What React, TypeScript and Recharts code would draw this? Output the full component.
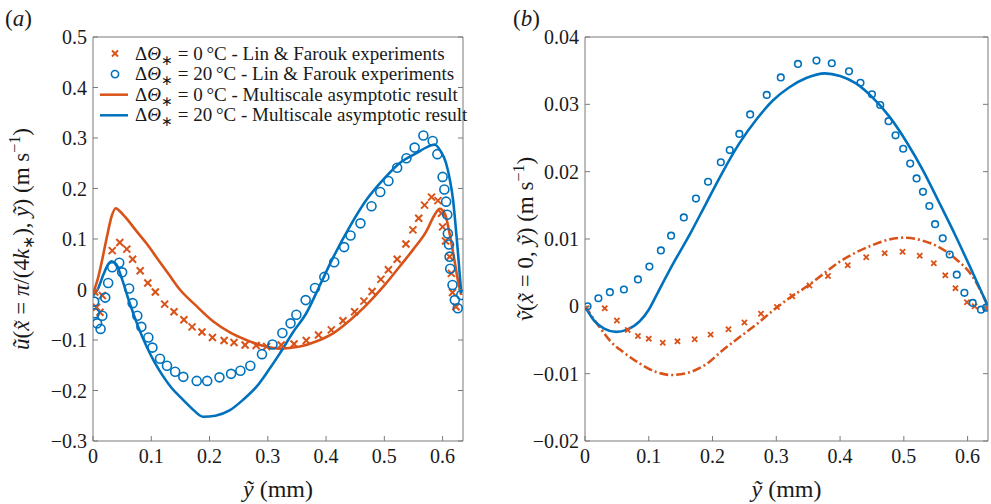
import React from 'react';
import { ComposedChart, Line, Scatter, XAxis, YAxis, Legend } from 'recharts';

const ORANGE = '#D95319';
const BLUE = '#0072BD';
const AXIS = '#7a7a7a';
const INK = '#1a1a1a';
const FONT = 'Liberation Serif';

const A_XMAX = 0.635;
const B_XMAX = 0.632;

const xTicks = [0, 0.1, 0.2, 0.3, 0.4, 0.5, 0.6];
const aYTicks = [-0.3, -0.2, -0.1, 0, 0.1, 0.2, 0.3, 0.4, 0.5];
const bYTicks = [-0.02, -0.01, 0, 0.01, 0.02, 0.03, 0.04];

// (a) Lin & Farouk, dTheta = 0 C
const aExp0X = [0.003, 0.006, 0.012, 0.016, 0.033, 0.046, 0.058, 0.068, 0.081, 0.094, 0.107, 0.123, 0.139, 0.156, 0.170, 0.187, 0.205, 0.225, 0.242, 0.261, 0.280, 0.298, 0.323, 0.345, 0.366, 0.387, 0.409, 0.429, 0.449, 0.465, 0.479, 0.494, 0.507, 0.522, 0.537, 0.549, 0.559, 0.569, 0.581, 0.592, 0.598, 0.600, 0.605, 0.612, 0.615, 0.617, 0.623];
const aExp0Y = [-0.005, -0.035, -0.045, -0.012, 0.077, 0.093, 0.080, 0.060, 0.037, 0.013, -0.005, -0.029, -0.044, -0.060, -0.074, -0.084, -0.095, -0.101, -0.105, -0.110, -0.111, -0.113, -0.110, -0.108, -0.101, -0.090, -0.080, -0.062, -0.044, -0.023, -0.004, 0.020, 0.039, 0.060, 0.090, 0.118, 0.141, 0.167, 0.183, 0.176, 0.151, 0.124, 0.096, 0.065, 0.032, -0.006, -0.034];

// (a) Lin & Farouk, dTheta = 20 C
const aExp20X = [0.002, 0.003, 0.007, 0.013, 0.016, 0.021, 0.026, 0.033, 0.045, 0.050, 0.062, 0.068, 0.076, 0.083, 0.095, 0.102, 0.115, 0.127, 0.141, 0.155, 0.178, 0.196, 0.217, 0.237, 0.253, 0.270, 0.290, 0.308, 0.325, 0.339, 0.349, 0.365, 0.381, 0.397, 0.414, 0.431, 0.442, 0.459, 0.478, 0.493, 0.507, 0.522, 0.538, 0.552, 0.567, 0.583, 0.591, 0.600, 0.603, 0.606, 0.608, 0.609, 0.611, 0.612, 0.613, 0.617, 0.621, 0.626, 0.632];
const aExp20Y = [-0.024, -0.047, -0.067, -0.078, -0.052, -0.016, 0.013, 0.044, 0.053, 0.034, 0.002, -0.027, -0.052, -0.074, -0.095, -0.115, -0.137, -0.151, -0.163, -0.173, -0.181, -0.181, -0.174, -0.167, -0.161, -0.151, -0.128, -0.109, -0.086, -0.067, -0.050, -0.021, 0.003, 0.025, 0.054, 0.084, 0.107, 0.131, 0.165, 0.193, 0.215, 0.241, 0.260, 0.281, 0.305, 0.294, 0.268, 0.223, 0.198, 0.174, 0.148, 0.111, 0.089, 0.065, 0.041, 0.009, -0.021, -0.037, -0.011];

// (a) multiscale asymptotic result
const aFit0X = [0, 0.008, 0.016, 0.024, 0.032, 0.039, 0.046, 0.058, 0.075, 0.092, 0.11, 0.13, 0.149, 0.175, 0.206, 0.235, 0.263, 0.29, 0.321, 0.355, 0.385, 0.412, 0.44, 0.469, 0.5, 0.526, 0.55, 0.572, 0.585, 0.595, 0.604, 0.612, 0.62, 0.626, 0.632];
const aFit0Y = [-0.007, 0.02, 0.06, 0.105, 0.145, 0.161, 0.155, 0.14, 0.115, 0.091, 0.062, 0.03, 0.0, -0.03, -0.063, -0.085, -0.1, -0.111, -0.117, -0.113, -0.102, -0.087, -0.062, -0.031, 0.008, 0.045, 0.08, 0.115, 0.145, 0.16, 0.15, 0.111, 0.06, 0.02, -0.011];
const aFit20X = [0, 0.008, 0.018, 0.026, 0.032, 0.04, 0.05, 0.063, 0.077, 0.092, 0.106, 0.121, 0.135, 0.149, 0.17, 0.189, 0.21, 0.235, 0.258, 0.281, 0.3, 0.321, 0.343, 0.366, 0.39, 0.412, 0.44, 0.469, 0.5, 0.526, 0.555, 0.575, 0.586, 0.596, 0.606, 0.612, 0.618, 0.622, 0.626, 0.629, 0.632];
const aFit20Y = [-0.012, 0.0, 0.03, 0.05, 0.056, 0.05, 0.02, -0.027, -0.072, -0.113, -0.145, -0.173, -0.195, -0.212, -0.236, -0.252, -0.25, -0.239, -0.218, -0.192, -0.162, -0.126, -0.085, -0.047, 0.01, 0.063, 0.123, 0.177, 0.22, 0.25, 0.27, 0.283, 0.287, 0.275, 0.25, 0.22, 0.177, 0.13, 0.078, 0.035, -0.007];

// (b) Lin & Farouk experiments
const bExp0X = [0.002, 0.031, 0.050, 0.067, 0.083, 0.100, 0.122, 0.145, 0.172, 0.197, 0.225, 0.250, 0.276, 0.301, 0.325, 0.352, 0.381, 0.412, 0.441, 0.470, 0.498, 0.525, 0.547, 0.565, 0.581, 0.599, 0.611, 0.630];
const bExp0Y = [-0.0003, -0.0003, -0.0021, -0.0035, -0.0044, -0.0048, -0.0054, -0.0052, -0.0049, -0.0042, -0.0034, -0.0024, -0.0011, -0.0001, 0.0015, 0.0031, 0.0045, 0.0061, 0.0073, 0.0079, 0.0081, 0.0075, 0.0064, 0.0046, 0.0027, 0.0006, 0.0, -0.0003];
const bExp20X = [0.004, 0.021, 0.039, 0.061, 0.083, 0.101, 0.119, 0.135, 0.155, 0.174, 0.193, 0.213, 0.227, 0.242, 0.259, 0.285, 0.307, 0.334, 0.363, 0.387, 0.414, 0.432, 0.450, 0.463, 0.476, 0.487, 0.499, 0.510, 0.520, 0.530, 0.540, 0.549, 0.561, 0.572, 0.583, 0.595, 0.608, 0.621, 0.629];
const bExp20Y = [0.0, 0.0012, 0.0021, 0.0025, 0.004, 0.0059, 0.0083, 0.0105, 0.0132, 0.016, 0.0185, 0.0214, 0.0232, 0.0256, 0.0285, 0.0314, 0.034, 0.036, 0.0365, 0.0361, 0.0349, 0.0332, 0.0315, 0.0299, 0.0275, 0.0254, 0.0234, 0.0212, 0.019, 0.017, 0.0149, 0.0122, 0.0101, 0.0077, 0.0047, 0.002, 0.0005, -0.0005, -0.0002];

// (b) multiscale asymptotic result
const bFit0X = [0, 0.023, 0.04, 0.06, 0.086, 0.11, 0.135, 0.16, 0.19, 0.215, 0.242, 0.27, 0.295, 0.32, 0.347, 0.375, 0.399, 0.425, 0.451, 0.476, 0.501, 0.528, 0.555, 0.582, 0.608, 0.62, 0.632];
const bFit0Y = [0, -0.0031, -0.0052, -0.0068, -0.0085, -0.0097, -0.0102, -0.0099, -0.0086, -0.0066, -0.0046, -0.0026, -0.0006, 0.0012, 0.0029, 0.0049, 0.0066, 0.008, 0.0091, 0.0099, 0.0102, 0.0098, 0.0088, 0.007, 0.0044, 0.0024, 0];
const bFit20X = [0, 0.015, 0.03, 0.049, 0.065, 0.086, 0.1, 0.115, 0.138, 0.165, 0.19, 0.215, 0.242, 0.27, 0.295, 0.32, 0.347, 0.376, 0.4, 0.425, 0.45, 0.478, 0.505, 0.53, 0.555, 0.582, 0.607, 0.632];
const bFit20Y = [0, -0.0022, -0.0033, -0.0038, -0.0035, -0.0022, -0.0005, 0.0022, 0.0063, 0.0108, 0.0153, 0.0198, 0.0242, 0.0279, 0.0306, 0.0325, 0.0339, 0.0346, 0.0342, 0.0331, 0.0311, 0.0281, 0.0243, 0.0202, 0.0155, 0.0103, 0.0052, 0];

const zip = (xs: number[], ys: number[]) => xs.map((x, i) => ({ x, y: ys[i] }));

const fmt = (v: number, d: number) =>
  Math.abs(v) < 1e-9 ? '0' : (v < 0 ? '\u2212' : '') + Math.abs(v).toFixed(d);

const txt = { fontFamily: FONT, fill: INK };

const BottomTick = ({ x, y, payload }: any) => (
  <g>
    <line x1={x} y1={y} x2={x} y2={y - 5} stroke={AXIS} />
    <text x={x} y={y + 22} textAnchor="middle" fontSize={20} {...txt}>{fmt(payload.value, 1)}</text>
  </g>
);
const TopTick = ({ x, y }: any) => <line x1={x} y1={y} x2={x} y2={y + 5} stroke={AXIS} />;
const RightTick = ({ x, y }: any) => <line x1={x} y1={y} x2={x - 5} y2={y} stroke={AXIS} />;
const leftTick = (digits: number) => ({ x, y, payload }: any) => (
  <g>
    <line x1={x} y1={y} x2={x + 5} y2={y} stroke={AXIS} />
    <text x={x - 6} y={y + 7} textAnchor="end" fontSize={20} {...txt}>{fmt(payload.value, digits)}</text>
  </g>
);

const XTitle = ({ viewBox }: any) => (
  <text x={viewBox.x + viewBox.width / 2} y={viewBox.y + 56} textAnchor="middle" fontSize={24} {...txt}>
    <tspan fontStyle="italic">{'\u1EF9'}</tspan> (mm)
  </text>
);

const yTitle = (panel: 'a' | 'b', dx: number) => ({ viewBox }: any) => {
  const cx = viewBox.x + dx;
  const cy = viewBox.y + viewBox.height / 2;
  return (
    <text x={cx} y={cy} transform={`rotate(-90 ${cx} ${cy})`} textAnchor="middle" fontSize={23} {...txt}>
      {panel === 'a' ? (
        <>
          <tspan fontStyle="italic">{'\u0169'}</tspan>(<tspan fontStyle="italic">{'x\u0303'}</tspan> = <tspan fontStyle="italic">π</tspan>/(4<tspan fontStyle="italic">k</tspan>
          <tspan dy={5} fontSize={16}>∗</tspan><tspan dy={-5}>), </tspan><tspan fontStyle="italic">{'\u1EF9'}</tspan>) (m s
        </>
      ) : (
        <>
          <tspan fontStyle="italic">{'v\u0303'}</tspan>(<tspan fontStyle="italic">{'x\u0303'}</tspan> = 0,  <tspan fontStyle="italic">{'\u1EF9'}</tspan>) (m s
        </>
      )}
      <tspan dy={-9} fontSize={16}>−1</tspan>
      <tspan dy={9}>)</tspan>
    </text>
  );
};

const Cross = ({ cx, cy, s = 3.5, w = 2 }: any) => (
  <g stroke={ORANGE} strokeWidth={w}>
    <line x1={cx - s} y1={cy - s} x2={cx + s} y2={cy + s} />
    <line x1={cx - s} y1={cy + s} x2={cx + s} y2={cy - s} />
  </g>
);
const Ring = ({ cx, cy, r = 4.5, w = 1.6 }: any) => (
  <circle cx={cx} cy={cy} r={r} fill="none" stroke={BLUE} strokeWidth={w} />
);

const legendKinds = ['cross', 'ring', 'line0', 'line20'];
const legendTemps = ['0', '20', '0', '20'];
const legendTexts = [
  'Lin & Farouk experiments',
  'Lin & Farouk experiments',
  'Multiscale asymptotic result',
  'Multiscale asymptotic result',
];

const LegendBox = () => (
  <svg width={380} height={90} style={{ display: 'block' }}>
    {legendKinds.map((k, i) => {
      const cy = 11.5 + i * 20.6;
      return (
        <g key={i}>
          {k === 'cross' && <Cross cx={20} cy={cy} s={3} />}
          {k === 'ring' && <Ring cx={20} cy={cy} r={3.6} />}
          {k === 'line0' && <line x1={5} x2={33} y1={cy} y2={cy} stroke={ORANGE} strokeWidth={2.5} />}
          {k === 'line20' && <line x1={5} x2={33} y1={cy} y2={cy} stroke={BLUE} strokeWidth={2.5} />}
          <text x={40} y={cy + 6} fontSize={19} {...txt}>
            Δ<tspan fontStyle="italic">Θ</tspan>
            <tspan dy={5} fontSize={14}>∗</tspan>
            <tspan dy={-5}>{` = ${legendTemps[i]}\u2009°C - ${legendTexts[i]}`}</tspan>
          </text>
        </g>
      );
    })}
  </svg>
);

const axisLine = { stroke: AXIS, strokeWidth: 1 };

export default function App() {
  return (
    <div style={{ position: 'absolute', left: 0, top: 0, width: 991, height: 504, background: '#fff' }}>
      <svg width={991} height={40} style={{ position: 'absolute', left: 0, top: 0 }}>
        <text x={5} y={26} fontSize={23} {...txt}>(<tspan fontStyle="italic">a</tspan>)</text>
        <text x={513} y={26} fontSize={23} {...txt}>(<tspan fontStyle="italic">b</tspan>)</text>
      </svg>

      <div style={{ position: 'absolute', left: 0, top: 0 }}>
        <ComposedChart width={480} height={504} margin={{ top: 36, right: 16, bottom: 33, left: 33 }}>
          <XAxis dataKey="x" type="number" domain={[0, A_XMAX]} ticks={xTicks} interval={0} allowDataOverflow
            height={30} tickSize={0} tickMargin={0} tickLine={false} axisLine={axisLine} tick={BottomTick} label={XTitle} />
          <XAxis xAxisId="t" orientation="top" type="number" domain={[0, A_XMAX]} ticks={xTicks} interval={0} allowDataOverflow
            height={1} tickSize={0} tickMargin={0} tickLine={false} axisLine={axisLine} tick={TopTick} />
          <YAxis type="number" domain={[-0.3, 0.5]} ticks={aYTicks} interval={0} allowDataOverflow
            width={60} tickSize={0} tickMargin={0} tickLine={false} axisLine={axisLine} tick={leftTick(1)} label={yTitle('a', -4)} />
          <YAxis yAxisId="r" orientation="right" type="number" domain={[-0.3, 0.5]} ticks={aYTicks} interval={0} allowDataOverflow
            width={1} tickSize={0} tickMargin={0} tickLine={false} axisLine={axisLine} tick={RightTick} />
          <Line data={zip(aFit0X, aFit0Y)} dataKey="y" type="monotone" stroke={ORANGE} strokeWidth={2.6} dot={false} isAnimationActive={false} />
          <Line data={zip(aFit20X, aFit20Y)} dataKey="y" type="monotone" stroke={BLUE} strokeWidth={2.6} dot={false} isAnimationActive={false} />
          <Scatter data={zip(aExp0X, aExp0Y)} dataKey="y" shape={(p: any) => <Cross cx={p.cx} cy={p.cy} />} isAnimationActive={false} />
          <Scatter data={zip(aExp20X, aExp20Y)} dataKey="y" shape={(p: any) => <Ring cx={p.cx} cy={p.cy} />} isAnimationActive={false} />
          <Legend layout="vertical" align="center" verticalAlign="middle" content={() => <LegendBox />}
            wrapperStyle={{ left: 95, top: 42, width: 380, height: 90 }} />
        </ComposedChart>
      </div>

      <div style={{ position: 'absolute', left: 500, top: 0 }}>
        <ComposedChart width={491} height={504} margin={{ top: 36, right: 2, bottom: 33, left: 15 }}>
          <XAxis dataKey="x" type="number" domain={[0, B_XMAX]} ticks={xTicks} interval={0} allowDataOverflow
            height={30} tickSize={0} tickMargin={0} tickLine={false} axisLine={axisLine} tick={BottomTick} label={XTitle} />
          <XAxis xAxisId="t" orientation="top" type="number" domain={[0, B_XMAX]} ticks={xTicks} interval={0} allowDataOverflow
            height={1} tickSize={0} tickMargin={0} tickLine={false} axisLine={axisLine} tick={TopTick} />
          <YAxis type="number" domain={[-0.02, 0.04]} ticks={bYTicks} interval={0} allowDataOverflow
            width={70} tickSize={0} tickMargin={0} tickLine={false} axisLine={axisLine} tick={leftTick(2)} label={yTitle('b', 18)} />
          <YAxis yAxisId="r" orientation="right" type="number" domain={[-0.02, 0.04]} ticks={bYTicks} interval={0} allowDataOverflow
            width={1} tickSize={0} tickMargin={0} tickLine={false} axisLine={axisLine} tick={RightTick} />
          <Line data={zip(bFit0X, bFit0Y)} dataKey="y" type="monotone" stroke={ORANGE} strokeWidth={2.6} strokeDasharray="9 3 2 3" dot={false} isAnimationActive={false} />
          <Line data={zip(bFit20X, bFit20Y)} dataKey="y" type="monotone" stroke={BLUE} strokeWidth={2.6} dot={false} isAnimationActive={false} />
          <Scatter data={zip(bExp0X, bExp0Y)} dataKey="y" shape={(p: any) => <Cross cx={p.cx} cy={p.cy} s={2.6} w={1.8} />} isAnimationActive={false} />
          <Scatter data={zip(bExp20X, bExp20Y)} dataKey="y" shape={(p: any) => <Ring cx={p.cx} cy={p.cy} r={3.3} w={1.6} />} isAnimationActive={false} />
        </ComposedChart>
      </div>
    </div>
  );
}
